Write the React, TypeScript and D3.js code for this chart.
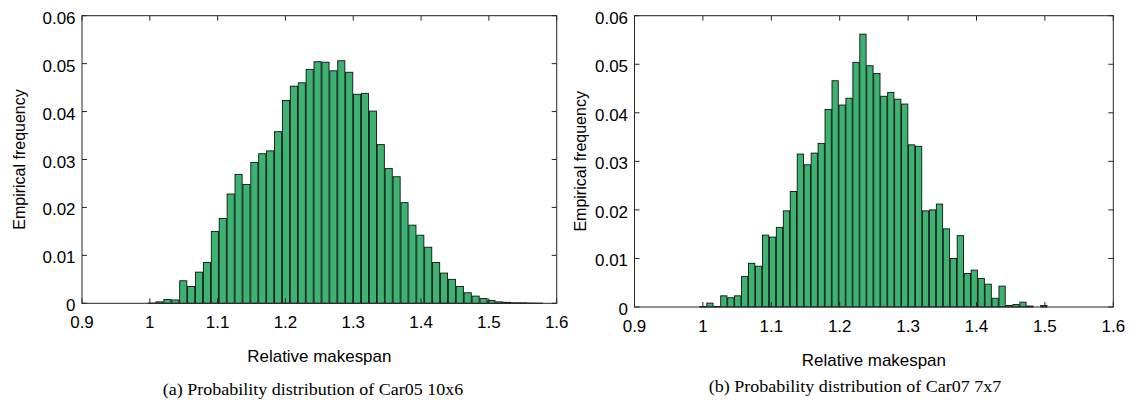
import React, { useEffect, useRef } from 'react';
import * as d3 from 'd3';

// histogram values (50 bins each)
const car05Freq = [
  0.00005, 0.0003, 0.0008, 0.0007, 0.0047, 0.0035, 0.0065, 0.0085, 0.015, 0.0177,
  0.0228, 0.0269, 0.0248, 0.0294, 0.0312, 0.0318, 0.0358, 0.0423, 0.0453, 0.046,
  0.0488, 0.0504, 0.0503, 0.0485, 0.0506, 0.0482, 0.0436, 0.0438, 0.0401, 0.0331,
  0.0281, 0.0264, 0.021, 0.0163, 0.0142, 0.0117, 0.0085, 0.0063, 0.005, 0.0035,
  0.0022, 0.0015, 0.001, 0.0006, 0.0003, 0.0002, 0.0001, 0.0001, 0.00005, 0.00003,
];
const car07Freq = [
  0.0001, 0.0008, 0.0001, 0.0023, 0.0019, 0.0023, 0.0063, 0.009, 0.0084, 0.0148,
  0.0144, 0.0164, 0.0198, 0.0238, 0.0315, 0.0293, 0.0317, 0.0337, 0.0407, 0.0466,
  0.0416, 0.043, 0.0504, 0.0562, 0.0497, 0.0481, 0.0434, 0.0442, 0.0428, 0.0418,
  0.0334, 0.0331, 0.0198, 0.02, 0.0212, 0.0161, 0.01, 0.0147, 0.0069, 0.0076,
  0.0059, 0.0047, 0.0018, 0.0043, 0.0003, 0.0005, 0.001, 0.0002, 0, 0.0003,
];
// first bin center and bin width (relative makespan)
const car05Bins = { start: 1.0027, width: 0.011652 };
const car07Bins = { start: 1.0001, width: 0.01017 };

const xTicks = [0.9, 1, 1.1, 1.2, 1.3, 1.4, 1.5, 1.6];
const yTicks = [0, 0.01, 0.02, 0.03, 0.04, 0.05, 0.06];
const xLabel = 'Relative makespan';
const yLabel = 'Empirical frequency';
const captions = [
  '(a) Probability distribution of Car05 10x6',
  '(b) Probability distribution of Car07 7x7',
];

const panels = [
  { values: car05Freq, bins: car05Bins, left: 82, right: 556.7, top: 15.7, bottom: 303.3, caption: captions[0], capX: 313, capY: 395, yLabX: 24.5 },
  { values: car07Freq, bins: car07Bins, left: 634.5, right: 1113.3, top: 15.7, bottom: 307, caption: captions[1], capX: 855, capY: 392, yLabX: 586 },
];

// the original figure is slightly stretched horizontally
const sx = 1.06;

export default function App() {
  const ref = useRef(null);

  useEffect(() => {
    const svg = d3.select(ref.current);
    svg.selectAll('*').remove();
    const font = 'Arial, "Liberation Sans", sans-serif';

    const label = (g, x, y, txt, size, anchor, family = font) =>
      g.append('text')
        .attr('transform', `translate(${x},${y}) scale(${sx},1)`)
        .attr('text-anchor', anchor)
        .attr('font-family', family)
        .attr('font-size', size)
        .attr('fill', '#000')
        .text(txt);

    panels.forEach((p) => {
      const x = d3.scaleLinear().domain([0.9, 1.6]).range([p.left, p.right]);
      const y = d3.scaleLinear().domain([0, 0.06]).range([p.bottom, p.top]);
      const g = svg.append('g');
      const bw = x(p.bins.width) - x(0);

      // bars
      g.selectAll('rect.bar')
        .data(p.values)
        .join('rect')
        .attr('class', 'bar')
        .attr('x', (d, i) => x(p.bins.start + i * p.bins.width) - bw * 0.45)
        .attr('width', bw * 0.9)
        .attr('y', (d) => y(d))
        .attr('height', (d) => Math.max(0, y(0) - y(d)))
        .attr('fill', '#3cb371')
        .attr('stroke', '#111')
        .attr('stroke-width', 0.9);

      const axisColor = '#262626';
      // box
      g.append('rect')
        .attr('x', p.left)
        .attr('y', p.top)
        .attr('width', p.right - p.left)
        .attr('height', p.bottom - p.top)
        .attr('fill', 'none')
        .attr('stroke', axisColor)
        .attr('stroke-width', 1);

      const tl = 5;
      // x ticks (inside, bottom and top)
      xTicks.forEach((t) => {
        const xx = x(t);
        g.append('line').attr('x1', xx).attr('x2', xx).attr('y1', p.bottom).attr('y2', p.bottom - tl).attr('stroke', axisColor);
        g.append('line').attr('x1', xx).attr('x2', xx).attr('y1', p.top).attr('y2', p.top + tl).attr('stroke', axisColor);
        label(g, xx, p.bottom + 25, d3.format('~g')(t), 16, 'middle');
      });
      // y ticks (inside, left and right)
      yTicks.forEach((t) => {
        const yy = y(t);
        g.append('line').attr('x1', p.left).attr('x2', p.left + tl).attr('y1', yy).attr('y2', yy).attr('stroke', axisColor);
        g.append('line').attr('x1', p.right).attr('x2', p.right - tl).attr('y1', yy).attr('y2', yy).attr('stroke', axisColor);
        label(g, p.left - 6.5, yy + 8, t === 0 ? '0' : d3.format('.2f')(t), 16, 'end');
      });

      // axis labels
      label(g, (p.left + p.right) / 2, p.bottom + 59, xLabel, 16, 'middle');
      g.append('text')
        .attr('transform', `translate(${p.yLabX},${(p.top + p.bottom) / 2}) rotate(-90)`)
        .attr('text-anchor', 'middle')
        .attr('font-family', font)
        .attr('font-size', 16)
        .text(yLabel);

      // caption
      label(g, p.capX, p.capY, p.caption, 17, 'middle', '"Liberation Serif", "Times New Roman", serif');
    });
  }, []);

  return (
    <svg
      ref={ref}
      width={1139}
      height={400}
      style={{ position: 'absolute', left: 0, top: 0, background: '#fff' }}
    />
  );
}
